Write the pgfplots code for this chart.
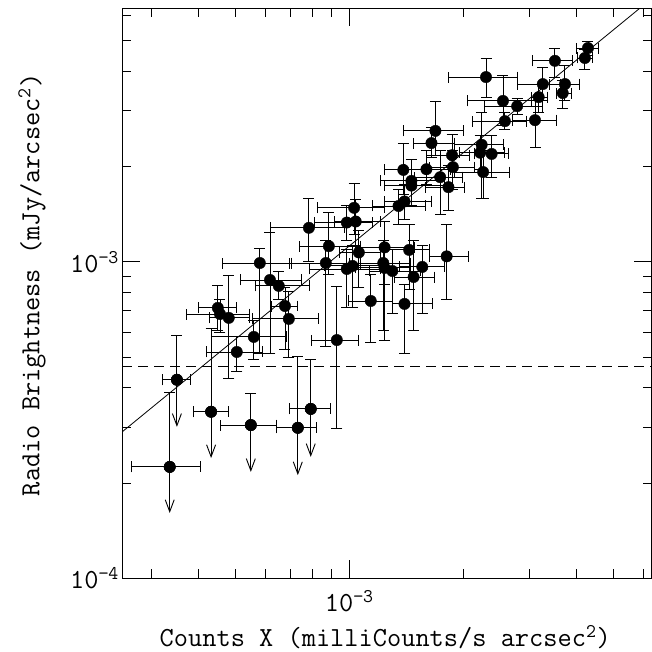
\documentclass[border=0pt]{standalone}
\usepackage{pgfplots}
\pgfplotsset{compat=1.18}
\usepackage{pgfplotstable}
\usetikzlibrary{arrows.meta,calc}

% detections: x y xlo xhi ylo yhi
\pgfplotstableread{
x y xlo xhi ylo yhi
4.28e-3 4.73e-3 4.00e-3 4.55e-3 4.47e-3 4.98e-3
4.20e-3 4.40e-3 4.02e-3 4.41e-3 4.06e-3 4.67e-3
3.50e-3 4.31e-3 3.06e-3 3.90e-3 3.83e-3 4.73e-3
3.72e-3 3.64e-3 3.39e-3 4.07e-3 3.22e-3 4.18e-3
3.67e-3 3.41e-3 3.54e-3 3.88e-3 3.04e-3 3.75e-3
3.25e-3 3.64e-3 2.78e-3 3.61e-3 3.24e-3 4.12e-3
3.17e-3 3.31e-3 3.04e-3 3.35e-3 2.97e-3 3.62e-3
3.10e-3 2.80e-3 2.71e-3 3.54e-3 2.29e-3 3.24e-3
2.30e-3 3.83e-3 1.83e-3 2.78e-3 3.31e-3 4.37e-3
2.55e-3 3.22e-3 2.06e-3 3.04e-3 2.70e-3 3.89e-3
2.78e-3 3.10e-3 2.28e-3 3.25e-3 2.91e-3 3.29e-3
2.58e-3 2.78e-3 2.12e-3 2.95e-3 2.61e-3 2.97e-3
2.24e-3 2.34e-3 1.90e-3 2.55e-3 1.59e-3 2.97e-3
2.22e-3 2.21e-3 1.96e-3 2.58e-3 1.95e-3 2.51e-3
2.38e-3 2.19e-3 2.15e-3 2.64e-3 1.85e-3 2.51e-3
2.26e-3 1.92e-3 1.90e-3 2.66e-3 1.59e-3 2.25e-3
1.69e-3 2.59e-3 1.39e-3 2.00e-3 2.17e-3 3.20e-3
1.65e-3 2.37e-3 1.48e-3 1.90e-3 2.13e-3 2.65e-3
1.87e-3 2.17e-3 1.60e-3 2.08e-3 1.95e-3 2.53e-3
1.88e-3 1.99e-3 1.63e-3 2.15e-3 1.69e-3 2.25e-3
1.74e-3 1.85e-3 1.49e-3 1.99e-3 1.41e-3 2.25e-3
1.83e-3 1.72e-3 1.59e-3 2.02e-3 1.45e-3 2.02e-3
1.39e-3 1.95e-3 1.24e-3 1.59e-3 1.63e-3 2.37e-3
1.60e-3 1.96e-3 1.40e-3 1.85e-3 1.75e-3 2.25e-3
1.46e-3 1.80e-3 1.21e-3 1.74e-3 1.51e-3 2.10e-3
1.46e-3 1.74e-3 1.24e-3 1.79e-3 1.51e-3 1.95e-3
1.35e-3 1.50e-3 1.15e-3 1.59e-3 1.31e-3 1.69e-3
1.40e-3 1.55e-3 1.24e-3 1.65e-3 1.36e-3 1.75e-3
1.03e-3 1.48e-3 8.26e-4 1.24e-3 1.22e-3 1.77e-3
9.85e-4 1.33e-3 8.11e-4 1.15e-3 1.17e-3 1.51e-3
1.04e-3 1.34e-3 9.16e-4 1.21e-3 1.13e-3 1.57e-3
7.82e-4 1.28e-3 6.17e-4 9.74e-4 9.99e-4 1.59e-3
8.83e-4 1.12e-3 7.40e-4 1.07e-3 9.09e-4 1.43e-3
8.67e-4 9.91e-4 6.96e-4 1.07e-3 5.42e-4 1.17e-3
1.06e-3 1.07e-3 9.44e-4 1.21e-3 8.27e-4 1.26e-3
1.24e-3 1.11e-3 1.04e-3 1.49e-3 8.45e-4 1.34e-3
1.44e-3 1.09e-3 1.24e-3 1.63e-3 8.15e-4 1.31e-3
1.81e-3 1.04e-3 1.63e-3 2.07e-3 7.63e-4 1.31e-3
1.23e-3 9.91e-4 1.00e-3 1.45e-3 6.05e-4 1.17e-3
1.24e-3 9.56e-4 1.04e-3 1.45e-3 5.66e-4 1.09e-3
9.85e-4 9.49e-4 7.87e-4 1.21e-3 7.20e-4 1.09e-3
1.02e-3 9.70e-4 8.62e-4 1.21e-3 7.20e-4 1.13e-3
1.30e-3 9.35e-4 1.13e-3 1.54e-3 6.89e-4 1.09e-3
1.56e-3 9.63e-4 1.36e-3 1.79e-3 6.89e-4 1.13e-3
1.48e-3 8.95e-4 1.32e-3 1.68e-3 6.09e-4 1.17e-3
4.49e-4 7.15e-4 3.98e-4 5.04e-4 6.09e-4 8.39e-4
4.55e-4 6.84e-4 3.70e-4 5.43e-4 5.96e-4 7.58e-4
4.80e-4 6.65e-4 4.28e-4 5.46e-4 4.27e-4 9.02e-4
5.04e-4 5.19e-4 4.18e-4 5.91e-4 4.49e-4 5.83e-4
5.59e-4 5.79e-4 4.33e-4 6.84e-4 4.93e-4 6.55e-4
6.17e-4 8.76e-4 5.14e-4 7.49e-4 5.15e-4 1.24e-3
6.51e-4 8.39e-4 5.63e-4 7.87e-4 7.58e-4 9.29e-4
6.76e-4 7.25e-4 6.24e-4 7.31e-4 5.27e-4 8.27e-4
6.92e-4 6.60e-4 5.53e-4 8.31e-4 4.97e-4 8.03e-4
5.80e-4 9.91e-4 4.63e-4 7.05e-4 5.12e-4 1.10e-3
9.27e-4 5.66e-4 7.96e-4 1.06e-3 2.97e-4 8.33e-4
1.14e-3 7.52e-4 9.92e-4 1.30e-3 5.58e-4 9.09e-4
1.40e-3 7.36e-4 1.30e-3 1.66e-3 5.15e-4 8.45e-4
}\dets

% upper limits: x y xlo xhi ylo(arrow end) yhi
\pgfplotstableread{
x y xlo xhi ylo yhi
3.50e-4 4.24e-4 3.21e-4 3.79e-4 3.01e-4 5.87e-4
3.35e-4 2.25e-4 2.65e-4 4.05e-4 1.61e-4 3.88e-4
4.31e-4 3.36e-4 3.88e-4 4.80e-4 2.40e-4 6.18e-4
5.49e-4 3.05e-4 4.55e-4 6.43e-4 2.17e-4 3.85e-4
7.31e-4 2.99e-4 6.43e-4 8.21e-4 2.12e-4 5.01e-4
7.91e-4 3.43e-4 6.96e-4 8.94e-4 2.42e-4 4.90e-4
}\ulims

\begin{document}
\begin{tikzpicture}
\begin{axis}[
  scale only axis, width=529.3pt, height=570.1pt,
  xmode=log, ymode=log,
  xmin=2.5119e-4, xmax=6.3096e-3, ymin=1e-4, ymax=6.3096e-3,
  axis line style={line width=1.2pt},
  every tick/.style={black, line width=1pt},
  major tick length=18pt, minor tick length=9pt,
  tick align=inside,
  xtick={1e-3}, xticklabels={10\textsuperscript{−3}},
  ytick={1e-4,1e-3}, yticklabels={10\textsuperscript{−4},10\textsuperscript{−3}},
  minor xtick={3e-4,4e-4,5e-4,6e-4,7e-4,8e-4,9e-4,2e-3,3e-3,4e-3,5e-3,6e-3},
  minor ytick={2e-4,3e-4,4e-4,5e-4,6e-4,7e-4,8e-4,9e-4,2e-3,3e-3,4e-3,5e-3,6e-3},
  tick label style={font=\ttfamily\fontsize{27.6}{32}\selectfont},
  xticklabel style={yshift=-8pt},
  label style={font=\ttfamily\fontsize{27.6}{32}\selectfont},
  xlabel={Counts X (milliCounts/s arcsec\textsuperscript{2})},
  ylabel={Radio Brightness (mJy/arcsec\textsuperscript{2})},
  xlabel style={at={(axis description cs:0.4965,-0.103)}, anchor=center},
  ylabel style={at={(axis description cs:-0.171,0.515)}, anchor=center},
]
\addplot[black, line width=0.8pt] coordinates {(2.5119e-4,2.908e-4) (6.3096e-3,6.78e-3)};
\addplot[black, line width=0.9pt, dash pattern=on 10pt off 6pt] coordinates {(2.5119e-4,4.68e-4) (6.3096e-3,4.68e-4)};

\addplot[only marks, mark=*, mark size=5.7pt, black,
  error bars/.cd, y dir=minus, y explicit, error mark=none,
  error bar style={line width=0.9pt, black, -{Straight Barb[length=12pt,width=9pt]}}]
  table[x=x, y=y, y error minus expr=\thisrow{y}-\thisrow{ylo}]{\ulims};
\addplot[only marks, mark=*, mark size=5.7pt, black,
  error bars/.cd, x dir=both, x explicit, y dir=plus, y explicit,
  error bar style={line width=0.9pt, black},
  error mark options={rotate=90, mark size=5.5pt, line width=0.9pt, black}]
  table[x=x, y=y,
    x error plus expr=\thisrow{xhi}-\thisrow{x},
    x error minus expr=\thisrow{x}-\thisrow{xlo},
    y error plus expr=\thisrow{yhi}-\thisrow{y}]{\ulims};
\addplot[only marks, mark=*, mark size=5.7pt, black,
  error bars/.cd, x dir=both, x explicit, y dir=both, y explicit,
  error bar style={line width=0.9pt, black},
  error mark options={rotate=90, mark size=5.5pt, line width=0.9pt, black}]
  table[x=x, y=y,
    x error plus expr=\thisrow{xhi}-\thisrow{x},
    x error minus expr=\thisrow{x}-\thisrow{xlo},
    y error plus expr=\thisrow{yhi}-\thisrow{y},
    y error minus expr=\thisrow{y}-\thisrow{ylo}]{\dets};
\coordinate (sw) at (rel axis cs:0,0);
\coordinate (ne) at (rel axis cs:1,1);
\end{axis}
\pgfresetboundingbox
\path[use as bounding box] ($(sw)+(-122.5pt,-73.5pt)$) rectangle ($(ne)+(0.3pt,8.4pt)$);
\end{tikzpicture}
\end{document}
